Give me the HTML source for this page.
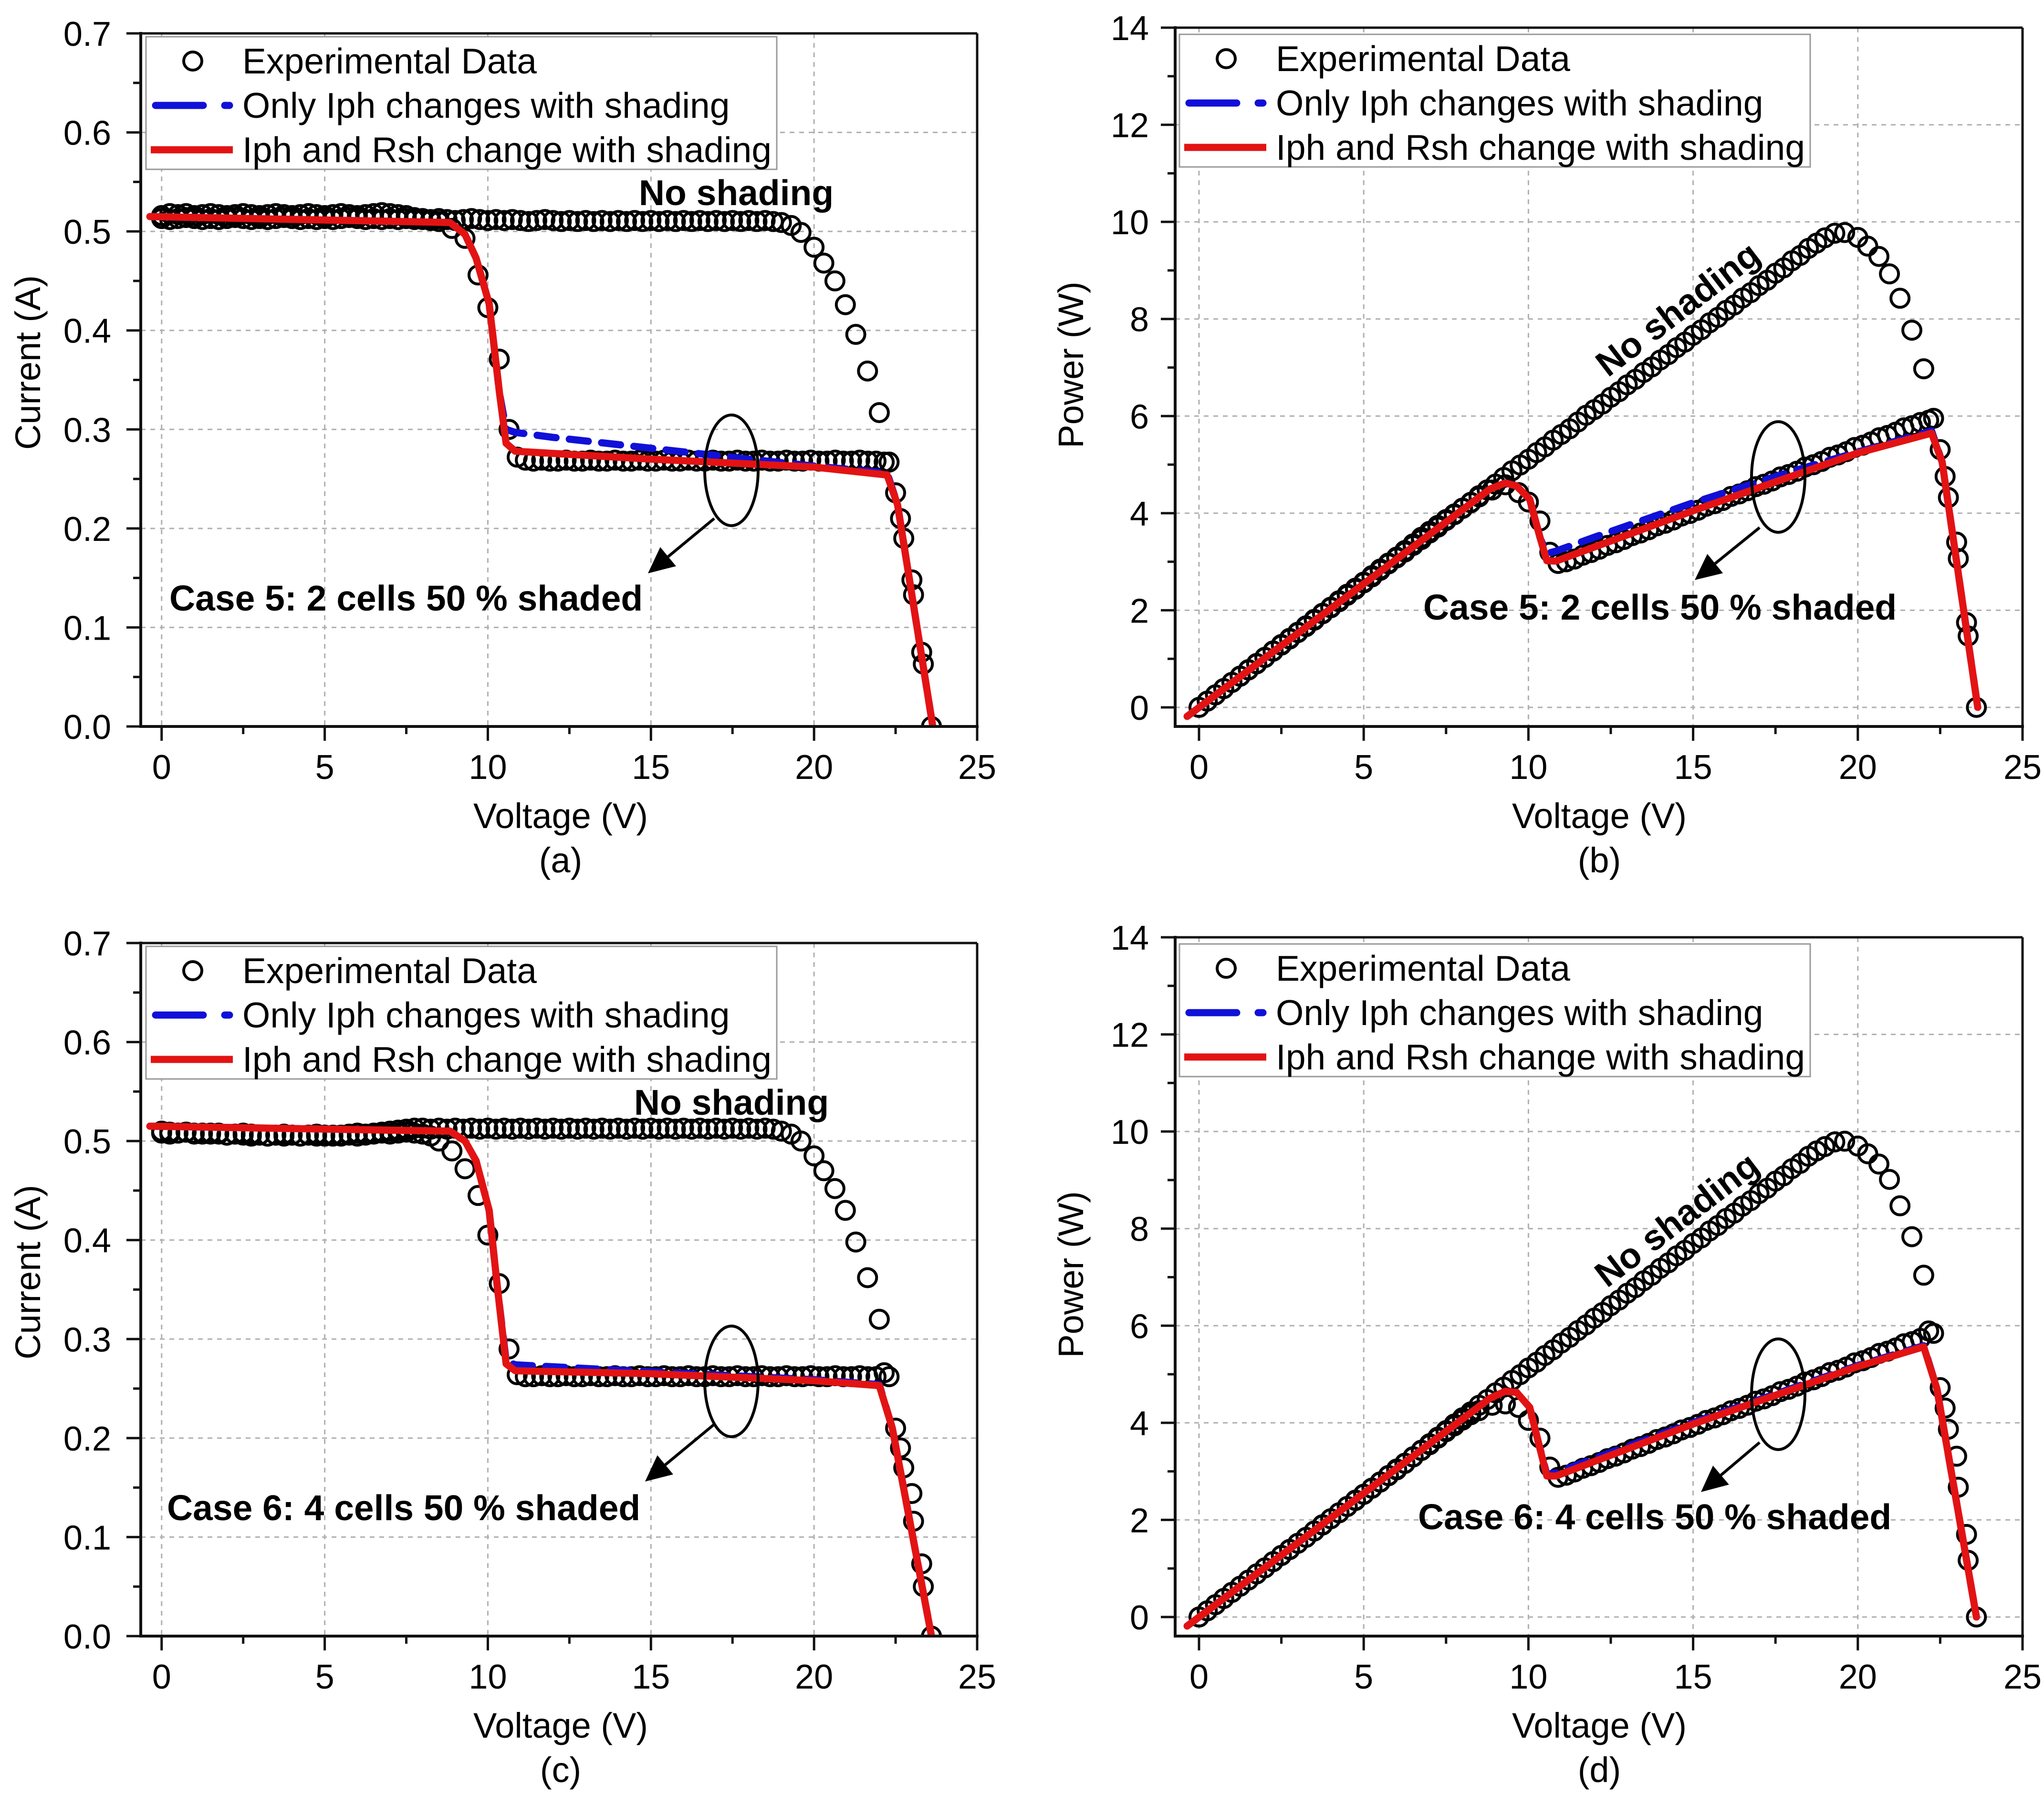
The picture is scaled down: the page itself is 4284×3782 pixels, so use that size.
<!DOCTYPE html>
<html><head><meta charset="utf-8"><style>
html,body{margin:0;padding:0;background:#fff}
svg{display:block}
text{font-family:"Liberation Sans",Arial,sans-serif;fill:#000}
</style></head><body>
<svg id="fig" xmlns="http://www.w3.org/2000/svg" width="4284" height="3782" viewBox="0 0 4284 3782">
<rect width="4284" height="3782" fill="#fff"/>
</svg>
<script>
// Shared voltage sweeps (V)
const vNS = [0,0.25,0.5,0.75,1,1.25,1.5,1.75,2,2.25,2.5,2.75,3,3.25,3.5,3.75,4,4.25,4.5,4.75,5,5.25,5.5,5.75,6,6.25,6.5,6.75,7,7.25,7.5,7.75,8,8.25,8.5,8.75,9,9.25,9.5,9.75,10,10.25,10.5,10.75,11,11.25,11.5,11.75,12,12.25,12.5,12.75,13,13.25,13.5,13.75,14,14.25,14.5,14.75,15,15.25,15.5,15.75,16,16.25,16.5,16.75,17,17.25,17.5,17.75,18,18.25,18.5,18.75,19,19.3,19.6,20.0,20.3,20.64,20.96,21.28,21.64,22.0];
const vS = [0,0.25,0.5,0.75,1,1.25,1.5,1.75,2,2.25,2.5,2.75,3,3.25,3.5,3.75,4,4.25,4.5,4.75,5,5.25,5.5,5.75,6,6.25,6.5,6.75,7,7.25,7.5,7.75,8,8.25,8.5,8.9,9.3,9.7,10.0,10.35,10.65,10.9,11.15,11.4,11.65,11.9,12.15,12.4,12.65,12.9,13.15,13.4,13.65,13.9,14.15,14.4,14.65,14.9,15.15,15.4,15.65,15.9,16.15,16.4,16.65,16.9,17.15,17.4,17.65,17.9,18.15,18.4,18.65,18.9,19.15,19.4,19.65,19.9,20.15,20.4,20.65,20.9,21.15,21.4,21.65,21.9,22.15,22.3,22.5,22.65,22.75,23.0,23.05,23.3,23.35,23.6];
// Case 5 experimental currents (A)
const iNS_a = [0.516,0.518,0.517,0.518,0.516,0.517,0.518,0.517,0.516,0.517,0.518,0.517,0.516,0.517,0.518,0.517,0.516,0.517,0.518,0.517,0.516,0.517,0.518,0.517,0.516,0.517,0.518,0.519,0.518,0.517,0.516,0.514,0.513,0.512,0.513,0.512,0.511,0.512,0.513,0.512,0.511,0.512,0.511,0.512,0.511,0.510,0.511,0.512,0.511,0.510,0.511,0.510,0.511,0.510,0.511,0.510,0.511,0.510,0.511,0.510,0.511,0.510,0.511,0.510,0.511,0.510,0.511,0.510,0.511,0.510,0.511,0.510,0.511,0.510,0.511,0.510,0.509,0.506,0.499,0.484,0.468,0.45,0.426,0.396,0.359,0.317];
const iS_a = [0.513,0.512,0.513,0.514,0.513,0.512,0.513,0.512,0.513,0.514,0.513,0.512,0.513,0.512,0.513,0.514,0.513,0.512,0.513,0.512,0.513,0.512,0.513,0.514,0.513,0.512,0.513,0.512,0.513,0.512,0.513,0.512,0.512,0.511,0.510,0.503,0.493,0.456,0.423,0.371,0.30,0.272,0.269,0.268,0.269,0.268,0.268,0.269,0.268,0.268,0.269,0.268,0.268,0.269,0.268,0.268,0.269,0.268,0.268,0.269,0.268,0.268,0.269,0.268,0.268,0.269,0.268,0.268,0.269,0.268,0.268,0.269,0.268,0.268,0.269,0.268,0.268,0.269,0.268,0.268,0.269,0.268,0.268,0.269,0.268,0.268,0.267,0.267,0.236,0.21,0.19,0.148,0.133,0.075,0.063,0];
// Case 6 experimental currents (A)
const iNS_c = [0.508,0.507,0.508,0.509,0.507,0.508,0.507,0.508,0.506,0.507,0.508,0.507,0.506,0.505,0.506,0.507,0.506,0.505,0.506,0.507,0.506,0.505,0.506,0.507,0.508,0.507,0.508,0.509,0.510,0.511,0.512,0.513,0.513,0.512,0.513,0.512,0.513,0.512,0.513,0.512,0.513,0.512,0.513,0.512,0.513,0.512,0.513,0.512,0.513,0.512,0.513,0.512,0.513,0.512,0.513,0.512,0.513,0.512,0.513,0.512,0.513,0.512,0.513,0.512,0.513,0.512,0.513,0.512,0.513,0.512,0.513,0.512,0.513,0.512,0.513,0.512,0.510,0.507,0.500,0.485,0.47,0.452,0.43,0.398,0.362,0.32];
const iS_c = [0.510,0.509,0.508,0.509,0.508,0.507,0.508,0.507,0.506,0.507,0.506,0.505,0.506,0.505,0.506,0.505,0.506,0.505,0.506,0.505,0.505,0.506,0.505,0.506,0.505,0.506,0.507,0.508,0.507,0.508,0.509,0.508,0.507,0.505,0.500,0.49,0.472,0.445,0.405,0.356,0.29,0.264,0.262,0.262,0.263,0.262,0.262,0.263,0.262,0.262,0.263,0.262,0.262,0.263,0.262,0.262,0.263,0.262,0.262,0.263,0.262,0.262,0.263,0.262,0.262,0.263,0.262,0.262,0.263,0.262,0.262,0.263,0.262,0.262,0.263,0.262,0.262,0.263,0.262,0.262,0.263,0.262,0.262,0.263,0.262,0.262,0.266,0.262,0.21,0.19,0.17,0.144,0.116,0.073,0.05,0];
// Model curves
const redV_a = [-0.36,8.84,9.3,9.64,10.04,10.36,10.56,10.84,15,20,22.24,22.56,23.64];
const redI_a = [0.515,0.509,0.497,0.473,0.427,0.336,0.286,0.278,0.27,0.262,0.254,0.224,0];
const blueV_a = [-0.36,8.84,9.3,9.64,10.04,10.36,10.56,10.84,12,15,18,20,22.24,22.56,23.64];
const blueI_a = [0.515,0.509,0.497,0.473,0.427,0.336,0.30,0.297,0.292,0.281,0.27,0.263,0.256,0.224,0];
const redV_c = [-0.36,8.84,9.3,9.64,10.04,10.3,10.56,10.84,15,20,22.0,22.4,23.6];
const redI_c = [0.515,0.51,0.5,0.48,0.43,0.35,0.275,0.268,0.265,0.258,0.253,0.21,0];
const blueV_c = [-0.36,8.84,9.3,9.64,10.04,10.3,10.56,10.84,12,15,20,22.0,22.4,23.6];
const blueI_c = [0.515,0.51,0.5,0.48,0.43,0.35,0.278,0.274,0.272,0.267,0.259,0.254,0.21,0];
// Tick labels
const xTicks = [0,5,10,15,20,25];
const yTicksI = [0,0.1,0.2,0.3,0.4,0.5,0.6,0.7];
const yTicksP = [0,2,4,6,8,10,12,14];
const legendLabels = ["Experimental Data","Only Iph changes with shading","Iph and Rsh change with shading"];

const NS="http://www.w3.org/2000/svg";
const svg=document.getElementById('fig');
function el(tag,attrs,parent){const e=document.createElementNS(NS,tag);for(const k in attrs)e.setAttribute(k,attrs[k]);(parent||svg).appendChild(e);return e;}
function txt(s,attrs,parent){const t=el('text',attrs,parent);t.textContent=s;return t;}

function panel(cfg){
  const g=el('g',{});
  
  
  const L=cfg.left,R=cfg.right,T=cfg.top,B=cfg.bottom;
  const sx=v=>L+(v-cfg.xmin)/(cfg.xmax-cfg.xmin)*(R-L);
  const sy=v=>B-(v-cfg.ymin)/(cfg.ymax-cfg.ymin)*(B-T);
  const cid='clip'+cfg.id;
  const cp=el('clipPath',{id:cid},g);el('rect',{x:L,y:T,width:R-L,height:B-T},cp);
  const grid=el('g',{},g);
  
  
  xTicks.forEach(v=>{const x=sx(v);if(x>L+5&&x<R-5)el('line',{x1:x,x2:x,y1:T,y2:B,stroke:'#b0b0b0','stroke-width':3,'stroke-dasharray':'10 10'},grid);});
  cfg.yTicks.forEach(v=>{const y=sy(v);if(y>T+5&&y<B-5)el('line',{x1:L,x2:R,y1:y,y2:y,stroke:'#b0b0b0','stroke-width':3,'stroke-dasharray':'10 10'},grid);});
  const dg=el('g',{'clip-path':`url(#${cid})`},g);
  const tf=cfg.power?(v,i)=>v*i:(v,i)=>i;
  function line(V,I,color,dash,name){
    const p=el('polyline',{points:V.map((v,k)=>sx(v)+','+sy(tf(v,I[k]))).join(' '),fill:'none',stroke:color,'stroke-width':15,'stroke-linejoin':'round','stroke-linecap':'round'},dg);
    if(dash)p.setAttribute('stroke-dasharray',dash);
    
    
  }
  function pts(V,I,name){
    const pg=el('g',{},dg);
    
    
    V.forEach((v,k)=>{const c=el('circle',{cx:sx(v),cy:sy(tf(v,I[k])),r:19,fill:'none',stroke:'#000','stroke-width':6},pg);
      
      });
  }
  pts(vNS,cfg.iNS,'no-shading-points');
  pts(vS,cfg.iS,'shaded-points');
  line(cfg.bV,cfg.bI,'#1010d8','40 28','only-iph-curve');
  line(cfg.rV,cfg.rI,'#e31313',null,'iph-rsh-curve');
  el('line',{x1:L,x2:R,y1:T,y2:T,stroke:'#111','stroke-width':5},g);
  el('line',{x1:R,x2:R,y1:T,y2:B,stroke:'#111','stroke-width':5},g);
  el('line',{x1:L,x2:L,y1:T-3,y2:B+3,stroke:'#111','stroke-width':6},g);
  el('line',{x1:L-3,x2:R+3,y1:B,y2:B,stroke:'#111','stroke-width':6},g);
  xTicks.forEach((v,k)=>{const x=sx(v);el('line',{x1:x,x2:x,y1:B,y2:B+30,stroke:'#111','stroke-width':5},g);
    const t=txt(String(v),{x:x,y:B+110,'font-size':72,'text-anchor':'middle'},g);
    
    
    if(k<xTicks.length-1){const xm=sx((v+xTicks[k+1])/2);el('line',{x1:xm,x2:xm,y1:B,y2:B+16,stroke:'#111','stroke-width':5},g);}
  });
  cfg.yTicks.forEach((v,k)=>{const y=sy(v);el('line',{x1:L-30,x2:L,y1:y,y2:y,stroke:'#111','stroke-width':5},g);
    const t=txt(cfg.power?String(v):v.toFixed(1),{x:L-cfg.labGap,y:y+26,'font-size':72,'text-anchor':'end'},g);
    
    
    if(k<cfg.yTicks.length-1){const ym=sy((v+cfg.yTicks[k+1])/2);el('line',{x1:L-16,x2:L,y1:ym,y2:ym,stroke:'#111','stroke-width':5},g);}
  });
  const xt=txt('Voltage (V)',{x:cfg.xtX,y:cfg.xtY,'font-size':74,'text-anchor':'middle'},g);
  
  
  const yt=txt(cfg.power?'Power (W)':'Current (A)',{x:0,y:0,'font-size':74,'text-anchor':'middle',transform:`translate(${cfg.ytX},${cfg.ytY}) rotate(-90)`},g);
  
  
  const lt=txt(cfg.letter,{x:cfg.xtX,y:cfg.xtY+93,'font-size':74,'text-anchor':'middle'},g);
  
  
  const lg=el('g',{},g);
  
  
  const lx=cfg.legX,ly=cfg.legY;
  el('rect',{x:lx,y:ly,width:1322,height:278,fill:'#fff',stroke:'#999','stroke-width':3},lg);
  const rows=[ly+51,ly+144,ly+237];
  el('circle',{cx:lx+98,cy:rows[0],r:19,fill:'none',stroke:'#000','stroke-width':6},lg);
  el('line',{x1:lx+20,x2:lx+120,y1:rows[1],y2:rows[1],stroke:'#1010d8','stroke-width':15,'stroke-linecap':'round'},lg);
  el('line',{x1:lx+165,x2:lx+175,y1:rows[1],y2:rows[1],stroke:'#1010d8','stroke-width':15,'stroke-linecap':'round'},lg);
  el('line',{x1:lx+10,x2:lx+182,y1:rows[2],y2:rows[2],stroke:'#e31313','stroke-width':15},lg);
  legendLabels.forEach((s,k)=>{const t=txt(s,{x:lx+202,y:rows[k]+26,'font-size':75},lg);
    
    });
  const ns=txt('No shading',{x:0,y:0,'font-size':75,'font-weight':'bold','text-anchor':'middle',transform:`translate(${cfg.nsX},${cfg.nsY}) rotate(${cfg.nsRot})`},g);
  
  
  const cs=txt(cfg.caseText,{x:cfg.csX,y:cfg.csY,'font-size':75,'font-weight':'bold'},g);
  
  
  const ell=el('ellipse',{cx:cfg.eX,cy:cfg.eY,rx:56,ry:116,fill:'none',stroke:'#000','stroke-width':6},g);
  
  
  const [x1,y1,x2,y2]=cfg.arrow;
  const ang=Math.atan2(y2-y1,x2-x1);
  const bx=x2-55*Math.cos(ang),by=y2-55*Math.sin(ang);
  const ar=el('g',{},g);
  
  
  el('line',{x1:x1,y1:y1,x2:bx,y2:by,stroke:'#000','stroke-width':6},ar);
  const px=-Math.sin(ang)*26,py=Math.cos(ang)*26;
  el('polygon',{points:`${x2},${y2} ${bx+px},${by+py} ${bx-px},${by-py}`,fill:'#000'},ar);
}

const A={left:295,right:2048,top:70,bottom:1523,xmin:-0.64,xmax:25,ymin:0,ymax:0.7,labGap:62};
const Bp={left:2463,right:4239,top:58,bottom:1523,xmin:-0.724,xmax:25,ymin:-0.393,ymax:14,labGap:55};
const DY=1907;
panel(Object.assign({},A,{id:'a',name:'panel-a-iv-case5',power:false,yTicks:yTicksI,iNS:iNS_a,iS:iS_a,rV:redV_a,rI:redI_a,bV:blueV_a,bI:blueI_a,
  xtX:1175,xtY:1736,ytX:84,ytY:760,letter:'(a)',legX:306,legY:77,nsX:1543,nsY:430,nsRot:0,caseText:'Case 5: 2 cells 50 % shaded',csX:355,csY:1280,eX:1533,eY:986,arrow:[1497,1087,1358,1202]}));
panel(Object.assign({},Bp,{id:'b',name:'panel-b-pv-case5',power:true,yTicks:yTicksP,iNS:iNS_a,iS:iS_a,rV:redV_a,rI:redI_a,bV:blueV_a,bI:blueI_a,
  xtX:3352,xtY:1736,ytX:2270,ytY:765,letter:'(b)',legX:2472,legY:72,nsX:3532,nsY:668,nsRot:-37.5,caseText:'Case 5: 2 cells 50 % shaded',csX:2983,csY:1299,eX:3727,eY:1000,arrow:[3688,1106,3552,1216]}));
panel(Object.assign({},A,{top:A.top+DY,bottom:A.bottom+DY,id:'c',name:'panel-c-iv-case6',power:false,yTicks:yTicksI,iNS:iNS_c,iS:iS_c,rV:redV_c,rI:redI_c,bV:blueV_c,bI:blueI_c,
  xtX:1175,xtY:1736+DY,ytX:84,ytY:760+DY,letter:'(c)',legX:306,legY:77+DY,nsX:1533,nsY:2337,nsRot:0,caseText:'Case 6: 4 cells 50 % shaded',csX:350,csY:3187,eX:1533,eY:2896,arrow:[1497,2986,1352,3106]}));
panel(Object.assign({},Bp,{top:Bp.top+DY,bottom:Bp.bottom+DY,id:'d',name:'panel-d-pv-case6',power:true,yTicks:yTicksP,iNS:iNS_c,iS:iS_c,rV:redV_c,rI:redI_c,bV:blueV_c,bI:blueI_c,
  xtX:3352,xtY:1736+DY,ytX:2270,ytY:765+DY,letter:'(d)',legX:2472,legY:72+DY,nsX:3530,nsY:2577,nsRot:-37.5,caseText:'Case 6: 4 cells 50 % shaded',csX:2972,csY:3206,eX:3727,eY:2923,arrow:[3688,3024,3565,3128]}));
</script>
</body></html>
